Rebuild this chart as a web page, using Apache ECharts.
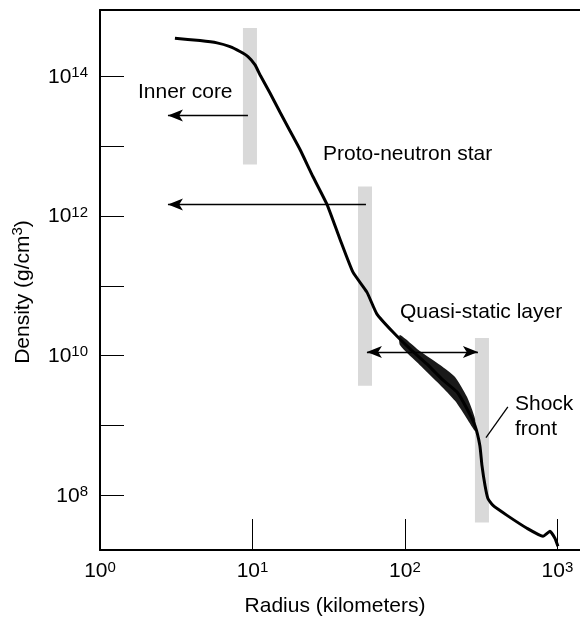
<!DOCTYPE html>
<html><head><meta charset="utf-8">
<script src="https://cdn.jsdelivr.net/npm/echarts@6/dist/echarts.min.js"></script>
<style>html,body{margin:0;padding:0;background:#fff}#c{width:580px;height:622px}</style>
</head><body><div id="c"></div>
<script>
// Density profile
const radiusKm = [3.10, 4.53, 5.85, 7.12, 8.28, 9.34, 10.4, 11.2, 13.0, 15.1, 17.6, 20.5, 24.9, 30.8, 37.5, 45.6, 56.3, 65.5, 83.4, 108, 139, 177, 219, 255, 288, 310, 320, 335, 350, 378, 467, 631, 804, 893, 963, 1007];
const densityGcm3 = [3.54e14, 3.27e14, 3.03e14, 2.68e14, 2.28e14, 1.93e14, 1.47e14, 1.06e14, 5.85e13, 3.13e13, 1.67e13, 8.98e12, 3.69e12, 1.47e12, 4.65e11, 1.57e11, 8.13e10, 3.94e10, 2.18e10, 1.25e10, 7.6e9, 4.5e9, 3.03e9, 1.73e9, 9.9e8, 5.13e8, 2.65e8, 1.38e8, 8.98e7, 7.13e7, 5.14e7, 3.36e7, 2.58e7, 3.04e7, 2.42e7, 1.86e7];
// thick (oscillating) band in the quasi-static layer
const bandRadius = [92.7, 125, 170, 213, 255, 288];
const bandUpper = [1.98e10, 1.17e10, 7.36e9, 4.96e9, 2.57e9, 1.25e9];
const bandLower = [1.42e10, 7.36e9, 3.81e9, 2.25e9, 1.25e9, 8.4e8];
// grey region markers: [r0, r1, rho0, rho1]
const regionBars = [
  [8.66, 10.7, 5.48e12, 4.97e14],
  [49.2, 60.8, 3.69e9, 2.65e12],
  [287.7, 355.6, 4.07e7, 1.79e10]
];
// arrows: [r_from, rho_from, r_to, rho_to]
const arrowInner = [9.34, 2.75e13, 2.79, 2.75e13];
const arrowProto = [55.5, 1.47e12, 2.79, 1.47e12];
const arrowQuasi = [56.3, 1.13e10, 301, 1.13e10];
const pointerShock = [340, 6.67e8, 473, 1.85e9];
const xTickValues = [1, 10, 100, 1000];
const yTickValues = [1e8, 1e9, 1e10, 1e11, 1e12, 1e13, 1e14];
const yLabelValues = [1e8, 1e10, 1e12, 1e14];
const xMin = 1, xMax = 1406, yMin = 1.64e7, yMax = 8.97e14;

const FONT = '"Liberation Sans", Arial, Helvetica, sans-serif';
const chart = echarts.init(document.getElementById('c'));
const powLabel = v => '{b|10}{s|' + Math.round(Math.log10(v)) + '}';
const richPow = {
  b: {fontSize: 21, fontFamily: FONT, color: '#000', lineHeight: 22, verticalAlign: 'bottom'},
  s: {fontSize: 15, fontFamily: FONT, color: '#000', lineHeight: 10, verticalAlign: 'top'}
};
function seg(a, symbols) {
  return [
    {coord: [a[0], a[1]], symbol: symbols[0]},
    {coord: [a[2], a[3]], symbol: symbols[1]}
  ];
}
chart.setOption({
  animation: false,
  backgroundColor: '#fff',
  grid: {left: 100, top: 10, right: 0, bottom: 70},
  xAxis: [{
    type: 'log', logBase: 10, min: xMin, max: xMax,
    name: 'Radius (kilometers)', nameLocation: 'middle', nameGap: 46,
    nameTextStyle: {fontSize: 21, fontFamily: FONT, color: '#000', padding: [0, 10, 0, 0]},
    axisLine: {show: true, lineStyle: {color: '#000', width: 2}},
    axisTick: {show: true, inside: true, length: 31, customValues: xTickValues, lineStyle: {color: '#000', width: 1}},
    minorTick: {show: false},
    axisLabel: {customValues: xTickValues, formatter: powLabel, rich: richPow, margin: 10},
    splitLine: {show: false}
  }, {
    type: 'value', position: 'top', min: 0, max: 1,
    axisLine: {show: true, lineStyle: {color: '#000', width: 2}},
    axisTick: {show: false}, axisLabel: {show: false}, splitLine: {show: false}
  }],
  yAxis: {
    type: 'log', logBase: 10, min: yMin, max: yMax,
    name: '{a|Density (g/cm}{s|3}{a|)}', nameLocation: 'middle', nameGap: 66,
    nameTextStyle: {padding: [0, 24, 0, 0], rich: {
      a: {fontSize: 21, fontFamily: FONT, color: '#000', lineHeight: 24, verticalAlign: 'bottom'},
      s: {fontSize: 15, fontFamily: FONT, color: '#000', lineHeight: 11, verticalAlign: 'top'}
    }},
    axisLine: {show: true, lineStyle: {color: '#000', width: 2}},
    axisTick: {show: true, inside: true, length: 24, customValues: yTickValues, lineStyle: {color: '#000', width: 1}},
    minorTick: {show: false},
    axisLabel: {customValues: yLabelValues, formatter: powLabel, rich: richPow, margin: 12},
    splitLine: {show: false}
  },
  series: [{
    type: 'custom', z: 1, silent: true,
    data: regionBars,
    encode: {x: [0, 1], y: [2, 3]},
    renderItem: function (params, api) {
      const p0 = api.coord([api.value(0), api.value(3)]);
      const p1 = api.coord([api.value(1), api.value(2)]);
      return {type: 'rect', shape: {x: p0[0], y: p0[1], width: p1[0] - p0[0], height: p1[1] - p0[1]},
        style: {fill: '#d9d9d9'}};
    }
  }, {
    type: 'custom', z: 2, silent: true,
    data: [[bandRadius[0], bandUpper[0]]],
    renderItem: function (params, api) {
      const pts = [];
      for (let i = 0; i < bandRadius.length; i++) pts.push(api.coord([bandRadius[i], bandUpper[i]]));
      for (let i = bandRadius.length - 1; i >= 0; i--) pts.push(api.coord([bandRadius[i], bandLower[i]]));
      return {type: 'polygon', shape: {points: pts, smooth: 0.2}, style: {fill: '#1a1a1a'}};
    }
  }, {
    type: 'line', z: 3, silent: true,
    data: radiusKm.map((r, i) => [r, densityGcm3[i]]),
    symbol: 'none', smooth: 0.15,
    lineStyle: {color: '#000', width: 3},
    markLine: {
      silent: true, animation: false,
      symbolSize: [9, 15],
      label: {show: false},
      lineStyle: {color: '#000', type: 'solid', width: 1.3},
      emphasis: {disabled: true},
      data: [
        seg(arrowInner, ['none', 'arrow']),
        seg(arrowProto, ['none', 'arrow']),
        seg(arrowQuasi, ['arrow', 'arrow']),
        seg(pointerShock, ['none', 'none'])
      ]
    }
  }],
  graphic: [
    {type: 'text', left: 138, top: 82, style: {text: 'Inner core', font: '21px ' + FONT, fill: '#000'}},
    {type: 'text', left: 323, top: 144, style: {text: 'Proto-neutron star', font: '21px ' + FONT, fill: '#000'}},
    {type: 'text', left: 400, top: 302, style: {text: 'Quasi-static layer', font: '21px ' + FONT, fill: '#000'}},
    {type: 'text', left: 515, top: 392, style: {text: 'Shock\nfront', font: '21px ' + FONT, fill: '#000', lineHeight: 25}}
  ]
});
</script>
</body></html>
